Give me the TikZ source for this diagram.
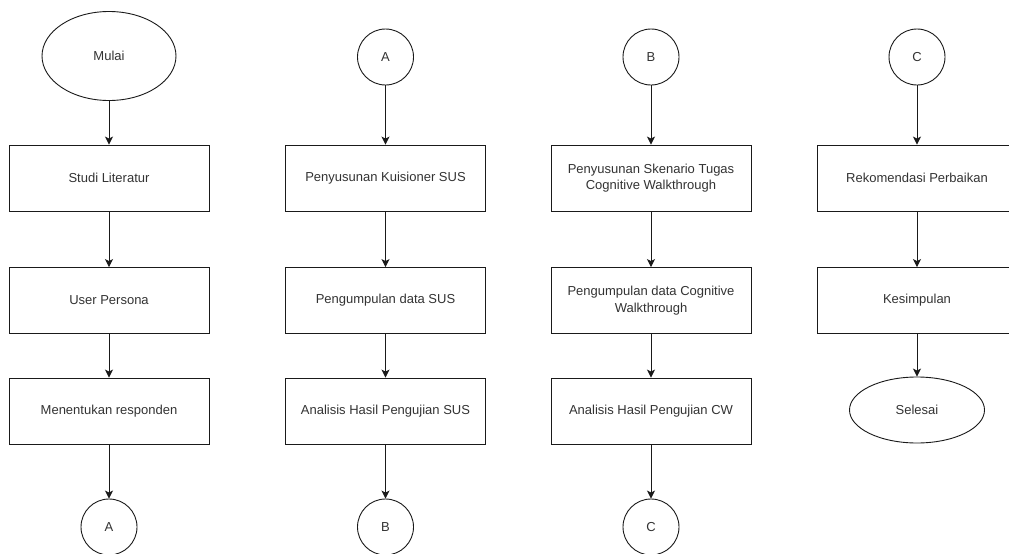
\documentclass[tikz,border=0pt]{standalone}
\usepackage{fontspec}
\setmainfont{Liberation Sans}
\usetikzlibrary{arrows.meta,shapes.geometric}
\definecolor{ink}{HTML}{1A1A1A}
\definecolor{txt}{HTML}{333333}
\begin{document}
\begin{tikzpicture}[x=1pt,y=-1pt,
  every node/.style={font=\fontsize{13}{16.5}\selectfont, text=txt, align=center},
  proc/.style={draw=ink, line width=0.9pt, minimum width=200pt, minimum height=66pt, inner sep=0pt},
  term/.style={draw=ink, line width=0.9pt, ellipse, inner sep=0pt},
  conn/.style={draw=ink, line width=0.9pt, circle, minimum size=56pt, inner sep=0pt},
  flow/.style={draw=ink, line width=0.9pt, -{Stealth[length=8pt,width=8pt,inset=2pt]}}]
\clip (0,0) rectangle (1009,554);
\fill[white] (0,0) rectangle (1009,554);

% column 1
\node[term, minimum width=134pt, minimum height=89pt] (mulai) at (109,56) {Mulai};
\node[proc] (studi) at (109,178) {Studi Literatur};
\node[proc] (persona) at (109,300.5) {User Persona};
\node[proc] (resp) at (109,411) {Menentukan responden};
\node[conn] (aout) at (109,527) {A};

% column 2
\node[conn] (ain) at (385.5,57) {A};
\node[proc] (kuis) at (385.5,178) {Penyusunan Kuisioner SUS};
\node[proc] (datasus) at (385.5,300.5) {Pengumpulan data SUS};
\node[proc] (anasus) at (385.5,411) {Analisis Hasil Pengujian SUS};
\node[conn] (bout) at (385.5,527) {B};

% column 3
\node[conn] (bin) at (651,57) {B};
\node[proc] (sken) at (651,178) {Penyusunan Skenario Tugas\\Cognitive Walkthrough};
\node[proc] (datacw) at (651,300.5) {Pengumpulan data Cognitive\\Walkthrough};
\node[proc] (anacw) at (651,411) {Analisis Hasil Pengujian CW};
\node[conn] (cout) at (651,527) {C};

% column 4
\node[conn] (cin) at (917,57) {C};
\node[proc] (rekom) at (917,178) {Rekomendasi Perbaikan};
\node[proc] (kesim) at (917,300.5) {Kesimpulan};
\node[term, minimum width=135pt, minimum height=66pt] (selesai) at (917,410) {Selesai};

\draw[flow] (mulai) -- (studi);
\draw[flow] (studi) -- (persona);
\draw[flow] (persona) -- (resp);
\draw[flow] (resp) -- (aout);

\draw[flow] (ain) -- (kuis);
\draw[flow] (kuis) -- (datasus);
\draw[flow] (datasus) -- (anasus);
\draw[flow] (anasus) -- (bout);

\draw[flow] (bin) -- (sken);
\draw[flow] (sken) -- (datacw);
\draw[flow] (datacw) -- (anacw);
\draw[flow] (anacw) -- (cout);

\draw[flow] (cin) -- (rekom);
\draw[flow] (rekom) -- (kesim);
\draw[flow] (kesim) -- (selesai);
\end{tikzpicture}
\end{document}
